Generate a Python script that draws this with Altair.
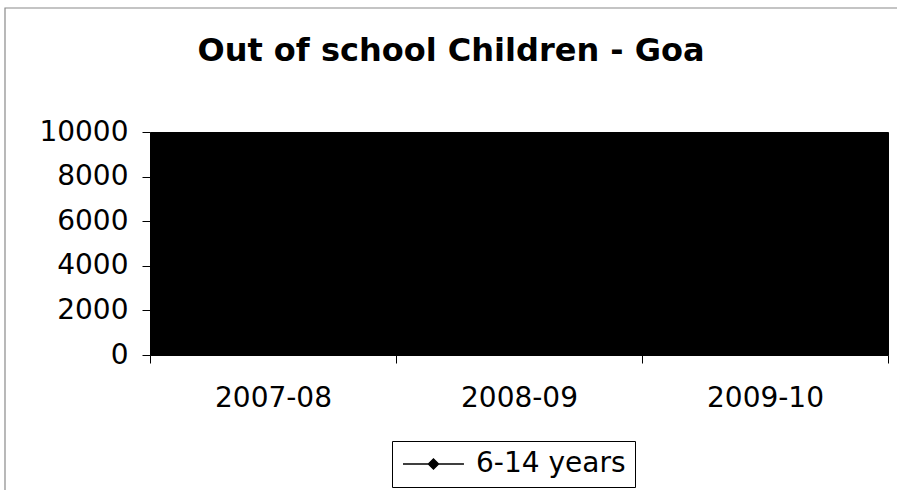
import json
import altair as alt
import pandas as pd

# ---- data (the line is drawn in black on the black plot area, as in the reference) ----
years = ["2007-08", "2008-09", "2009-10"]
children = [4250, 2930, 1790]
series_name = "6-14 years"
y_ticks = [0, 2000, 4000, 6000, 8000, 10000]
chart_title = "Out of school Children - Goa"

df = pd.DataFrame({
    "year": years,
    "pos": [i + 0.5 for i in range(len(years))],
    "children": children,
    "series": [series_name] * len(years),
})

FONT = "DejaVu Sans"
labels_js = json.dumps(years)
x_vals = [i * 0.5 for i in range(2 * len(years) + 1)]

x_enc = alt.X(
    "pos:Q",
    scale=alt.Scale(domain=[0, len(years)], nice=False, zero=False),
    axis=alt.Axis(
        values=x_vals,
        title=None,
        grid=False,
        domain=False,
        labelExpr=f"datum.value % 1 == 0 ? '' : {labels_js}[floor(datum.value)]",
        tickOpacity={"condition": {"test": "datum.value % 1 == 0", "value": 1}, "value": 0},
        tickSize=8,
        tickColor="black",
        labelFont=FONT,
        labelFontSize=28,
        labelColor="black",
        labelPadding=21,
        labelOverlap=False,
        labelFlush=False,
    ),
)
y_enc = alt.Y(
    "children:Q",
    scale=alt.Scale(domain=[0, 10000], nice=False),
    axis=alt.Axis(
        values=y_ticks,
        format="d",
        title=None,
        grid=False,
        domain=False,
        tickSize=8,
        tickColor="black",
        labelFont=FONT,
        labelFontSize=28,
        labelColor="black",
        labelPadding=14,
    ),
)

# legend symbol: a line with a filled diamond in its middle (units of 12 px)
legend_symbol = "M-1,0L1.12,0L1.54,-0.42L1.96,0L4.08,0L1.96,0L1.54,0.42L1.12,0Z"

line = alt.Chart(df).mark_line(
    strokeWidth=2,
    point=alt.OverlayMarkDef(shape="diamond", filled=True, size=120, color="black"),
).encode(
    x=x_enc,
    y=y_enc,
    color=alt.Color(
        "series:N",
        scale=alt.Scale(range=["black"]),
        legend=alt.Legend(
            title=None,
            orient="none",
            legendX=242,
            legendY=309,
            symbolType=legend_symbol,
            symbolSize=576,
            symbolStrokeWidth=1.5,
            symbolFillColor="black",
            symbolStrokeColor="black",
            labelFont=FONT,
            labelFontSize=28,
            labelColor="black",
            labelOffset=47,
            padding=9,
            strokeColor="black",
            fillColor="white",
        ),
    ),
)

one = pd.DataFrame({"t": [chart_title]})

frame = alt.Chart(one).mark_rect(
    fill=None, stroke="#8a8a8a", strokeWidth=1.2, clip=False
).encode(
    x=alt.value(-145), x2=alt.value(760),
    y=alt.value(-124), y2=alt.value(370),
)

title = alt.Chart(one).mark_text(
    font=FONT, fontSize=32, fontWeight="bold", color="black",
    align="center", baseline="alphabetic", clip=False,
).encode(
    text="t:N",
    x=alt.value(301),
    y=alt.value(-71),
)

chart = alt.layer(frame, line, title).properties(
    width=738,
    height=223,
    background="white",
    autosize=alt.AutoSizeParams(type="none"),
    padding={"left": 150, "top": 132, "right": 9, "bottom": 135},
).configure_view(
    fill="black", stroke="black", strokeWidth=1
)

chart.save("out.html", embed_options={"renderer": "svg", "actions": False})
